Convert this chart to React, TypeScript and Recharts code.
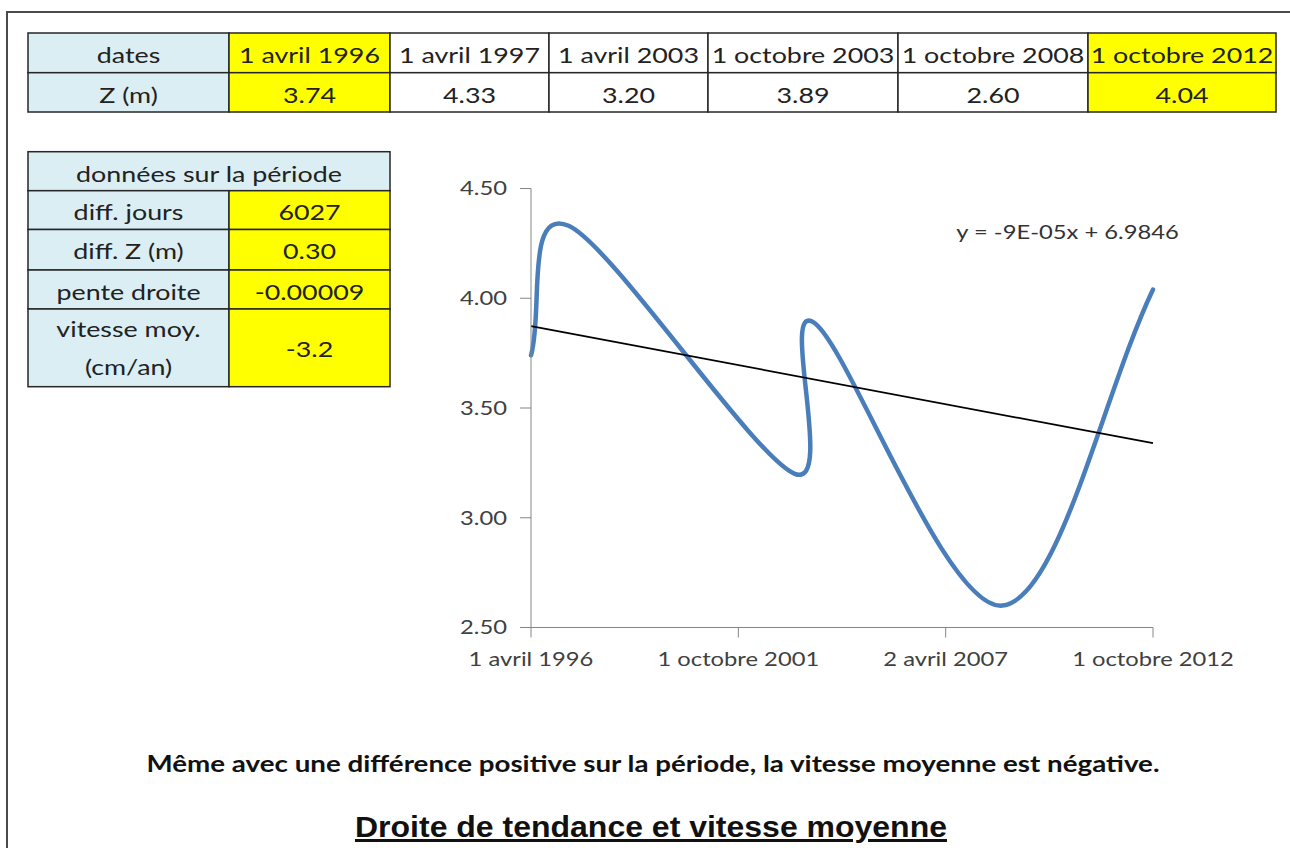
import React from 'react';
import { LineChart, Line, XAxis, YAxis } from 'recharts';

// ---------------- data ----------------
const tableDates = ['1 avril 1996', '1 avril 1997', '1 avril 2003', '1 octobre 2003', '1 octobre 2008', '1 octobre 2012'];
const isoDates = ['1996-04-01', '1997-04-01', '2003-04-01', '2003-10-01', '2008-10-01', '2012-10-01'];
const zValues = [3.74, 4.33, 3.2, 3.89, 2.6, 4.04];
const highlightedColumns = [0, 5];
const periodHeader = 'données sur la période';
const periodLabels = ['diff. jours', 'diff. Z (m)', 'pente droite'];
const periodValues = ['6027', '0.30', '-0.00009'];
const speedLabelLines = ['vitesse moy.', '(cm/an)'];
const speedValue = '-3.2';
const xTickDates = ['1996-04-01', '2001-10-01', '2007-04-02', '2012-10-01'];
const xTickLabels = ['1 avril 1996', '1 octobre 2001', '2 avril 2007', '1 octobre 2012'];
const yTickValues = [2.5, 3, 3.5, 4, 4.5];
const trendEquation = 'y = -9E-05x + 6.9846';
const noteText = 'Même avec une différence positive sur la période, la vitesse moyenne est négative.';
const titleText = 'Droite de tendance et vitesse moyenne';

// Excel date serial
const toSerial = (iso: string) => {
  const [y, m, d] = iso.split('-').map(Number);
  return Date.UTC(y, m - 1, d) / 86400000 + 25569;
};
const xSerials = isoDates.map(toSerial);
const xTicks = xTickDates.map(toSerial);
const seriesData = xSerials.map((x, i) => ({ x, z: zValues[i] }));

// least squares trend line (Excel linear trendline)
const n = xSerials.length;
const mx = xSerials.reduce((a, b) => a + b, 0) / n;
const my = zValues.reduce((a, b) => a + b, 0) / n;
let sxy = 0;
let sxx = 0;
xSerials.forEach((x, i) => {
  sxy += (x - mx) * (zValues[i] - my);
  sxx += (x - mx) * (x - mx);
});
const slope = sxy / sxx;
const intercept = my - slope * mx;
const trendData = [xSerials[0], xSerials[n - 1]].map((x) => ({ x, t: slope * x + intercept }));

// Excel-like smoothed line (Bezier through points)
const excelSmooth: any = (context: any) => {
  let pts: number[][] = [];
  return {
    areaStart() {},
    areaEnd() {},
    lineStart() {
      pts = [];
    },
    point(x: number, y: number) {
      pts.push([+x, +y]);
    },
    lineEnd() {
      const m = pts.length;
      if (!m) return;
      context.moveTo(pts[0][0], pts[0][1]);
      for (let i = 0; i < m - 1; i++) {
        const p1 = pts[i];
        const p2 = pts[i + 1];
        const c1 =
          i === 0
            ? [p1[0] + (p2[0] - p1[0]) / 3, p1[1] + (p2[1] - p1[1]) / 3]
            : [p1[0] + (p2[0] - pts[i - 1][0]) / 6, p1[1] + (p2[1] - pts[i - 1][1]) / 6];
        const c2 =
          i === m - 2
            ? [p2[0] - (p2[0] - p1[0]) / 3, p2[1] - (p2[1] - p1[1]) / 3]
            : [p2[0] - (pts[i + 2][0] - p1[0]) / 6, p2[1] - (pts[i + 2][1] - p1[1]) / 6];
        context.bezierCurveTo(c1[0], c1[1], c2[0], c2[1], p2[0], p2[1]);
      }
    },
  };
};

// ---------------- styles ----------------
const FONT = 'Lato, "Open Sans", sans-serif';
const TABLE_SIZE = 22;
const TABLE_SX = 1.22;
const AXIS_SIZE = 19;
const AXIS_SX = 1.25;
const TEXT_COLOR = '#222';
const AXIS_TEXT = '#404040';
const BLUE_CELL = '#DAEEF3';
const YELLOW = '#FFFF00';
const BORDER = '#262626';

const TOP_COLS = [28, 229, 390, 549, 708, 898, 1088, 1276];
const TOP_ROWS = [33, 72.7, 112];
const SIDE_COLS = [28, 229, 390];
const SIDE_ROWS = [151.7, 190.7, 229.5, 270, 309, 386.7];

const CellText = ({ x, y, text }: { x: number; y: number; text: string }) => (
  <text
    transform={`translate(${x},${y}) scale(${TABLE_SX},1)`}
    textAnchor="middle"
    fontFamily={FONT}
    fontSize={TABLE_SIZE}
    fill={TEXT_COLOR}
  >
    {text}
  </text>
);

const Cell = ({ x0, x1, y0, y1, fill }: { x0: number; x1: number; y0: number; y1: number; fill: string }) => (
  <rect x={x0} y={y0} width={x1 - x0} height={y1 - y0} fill={fill} stroke={BORDER} strokeWidth={1.5} />
);

const XTick = (props: any) => {
  const { x, y, payload } = props;
  const idx = xTicks.indexOf(payload.value);
  return (
    <text
      transform={`translate(${x},${y + AXIS_SIZE * 0.72}) scale(${AXIS_SX},1)`}
      textAnchor="middle"
      fontFamily={FONT}
      fontSize={AXIS_SIZE}
      fill={AXIS_TEXT}
    >
      {idx >= 0 ? xTickLabels[idx] : ''}
    </text>
  );
};

const YTick = (props: any) => {
  const { x, y, payload } = props;
  return (
    <text
      transform={`translate(${x},${y + AXIS_SIZE * 0.36}) scale(${AXIS_SX},1)`}
      textAnchor="end"
      fontFamily={FONT}
      fontSize={AXIS_SIZE}
      fill={AXIS_TEXT}
    >
      {Number(payload.value).toFixed(2)}
    </text>
  );
};

export default function App() {
  const topCells: React.ReactNode[] = [];
  for (let r = 0; r < 2; r++) {
    for (let c = 0; c < 7; c++) {
      const fill = c === 0 ? BLUE_CELL : highlightedColumns.includes(c - 1) ? YELLOW : '#FFFFFF';
      topCells.push(
        <Cell key={`tc${r}-${c}`} x0={TOP_COLS[c]} x1={TOP_COLS[c + 1]} y0={TOP_ROWS[r]} y1={TOP_ROWS[r + 1]} fill={fill} />
      );
    }
  }
  const topTexts: React.ReactNode[] = [];
  for (let r = 0; r < 2; r++) {
    for (let c = 0; c < 7; c++) {
      const text = c === 0 ? (r === 0 ? 'dates' : 'Z (m)') : r === 0 ? tableDates[c - 1] : zValues[c - 1].toFixed(2);
      topTexts.push(
        <CellText key={`tt${r}-${c}`} x={(TOP_COLS[c] + TOP_COLS[c + 1]) / 2} y={TOP_ROWS[r] + 30} text={text} />
      );
    }
  }

  const sideCx0 = (SIDE_COLS[0] + SIDE_COLS[1]) / 2;
  const sideCx1 = (SIDE_COLS[1] + SIDE_COLS[2]) / 2;

  return (
    <div style={{ position: 'absolute', left: 0, top: 0, width: 1290, height: 848, background: '#fff', overflow: 'hidden' }}>
      <svg width={1290} height={848} style={{ position: 'absolute', left: 0, top: 0 }}>
        <path d="M7,848 V12 H1290" fill="none" stroke="#4a4a4a" strokeWidth={2} />
        {topCells}
        {topTexts}

        <Cell x0={SIDE_COLS[0]} x1={SIDE_COLS[2]} y0={SIDE_ROWS[0]} y1={SIDE_ROWS[1]} fill={BLUE_CELL} />
        <CellText x={(SIDE_COLS[0] + SIDE_COLS[2]) / 2} y={SIDE_ROWS[0] + 30} text={periodHeader} />
        {periodLabels.map((lab, i) => (
          <g key={`pr${i}`}>
            <Cell x0={SIDE_COLS[0]} x1={SIDE_COLS[1]} y0={SIDE_ROWS[i + 1]} y1={SIDE_ROWS[i + 2]} fill={BLUE_CELL} />
            <Cell x0={SIDE_COLS[1]} x1={SIDE_COLS[2]} y0={SIDE_ROWS[i + 1]} y1={SIDE_ROWS[i + 2]} fill={YELLOW} />
            <CellText x={sideCx0} y={SIDE_ROWS[i + 1] + 29.5} text={lab} />
            <CellText x={sideCx1} y={SIDE_ROWS[i + 1] + 29.5} text={periodValues[i]} />
          </g>
        ))}
        <Cell x0={SIDE_COLS[0]} x1={SIDE_COLS[1]} y0={SIDE_ROWS[4]} y1={SIDE_ROWS[5]} fill={BLUE_CELL} />
        <Cell x0={SIDE_COLS[1]} x1={SIDE_COLS[2]} y0={SIDE_ROWS[4]} y1={SIDE_ROWS[5]} fill={YELLOW} />
        <CellText x={sideCx0} y={SIDE_ROWS[4] + 28} text={speedLabelLines[0]} />
        <CellText x={sideCx0} y={SIDE_ROWS[4] + 66} text={speedLabelLines[1]} />
        <CellText x={sideCx1} y={SIDE_ROWS[4] + 48} text={speedValue} />

        <text
          transform={`translate(1067.5,239) scale(${AXIS_SX},1)`}
          textAnchor="middle"
          fontFamily={FONT}
          fontSize={AXIS_SIZE}
          fill="#333"
        >
          {trendEquation}
        </text>

        <text
          x={653}
          y={772}
          textAnchor="middle"
          fontFamily={FONT}
          fontWeight={700}
          fontSize={22}
          fill="#111"
          textLength={1013}
          lengthAdjust="spacingAndGlyphs"
        >
          {noteText}
        </text>
        <text
          x={651}
          y={837}
          textAnchor="middle"
          fontFamily='"Liberation Sans", Arial, sans-serif'
          fontWeight={700}
          fontSize={30}
          fill="#111"
          textLength={592}
          lengthAdjust="spacingAndGlyphs"
          style={{ textDecoration: 'underline' }}
        >
          {titleText}
        </text>
      </svg>

      <div style={{ position: 'absolute', left: 430, top: 170 }}>
        <LineChart width={860} height={520} margin={{ top: 18.5, right: 137, bottom: 22.5, left: 41 }}>
          <XAxis
            type="number"
            dataKey="x"
            domain={[xTicks[0], xTicks[xTicks.length - 1]]}
            ticks={xTicks}
            interval={0}
            tickSize={10}
            tickMargin={15}
            height={40}
            stroke="#868686"
            tick={(p: any) => <XTick {...p} />}
          />
          <YAxis
            type="number"
            domain={[yTickValues[0], yTickValues[yTickValues.length - 1]]}
            ticks={yTickValues}
            interval={0}
            tickSize={11}
            tickMargin={13}
            width={60}
            stroke="#868686"
            tick={(p: any) => <YTick {...p} />}
          />
          <Line
            data={seriesData}
            dataKey="z"
            type={excelSmooth}
            stroke="#4a7ebb"
            strokeWidth={4.5}
            strokeLinecap="round"
            dot={false}
            activeDot={false}
            isAnimationActive={false}
          />
          <Line
            data={trendData}
            dataKey="t"
            type="linear"
            stroke="#000000"
            strokeWidth={1.7}
            dot={false}
            activeDot={false}
            isAnimationActive={false}
          />
        </LineChart>
      </div>
    </div>
  );
}
